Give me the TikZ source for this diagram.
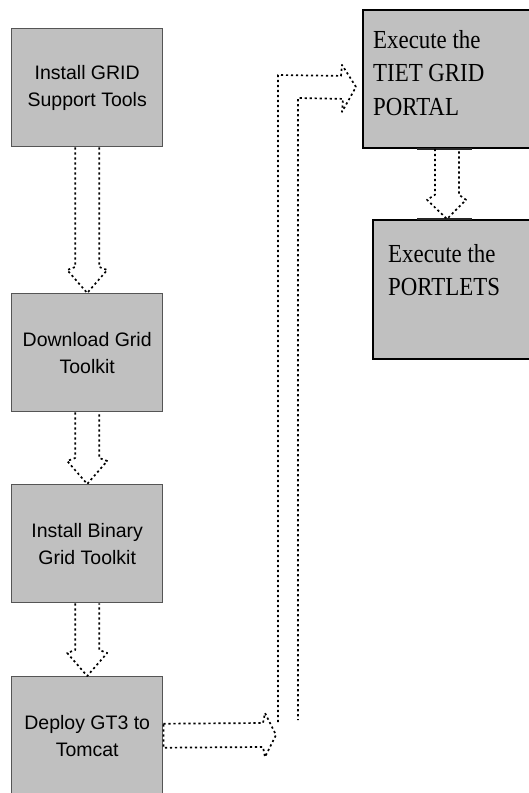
\documentclass[tikz,border=0pt]{standalone}
\usepackage{fontspec}
\setmainfont{Liberation Serif}
\newfontfamily\boxsans{Liberation Sans}
\newfontfamily\portalfont[FakeStretch=0.88]{Liberation Serif}
\usetikzlibrary{calc}
\definecolor{boxfill}{HTML}{C0C0C0}
\definecolor{boxline}{HTML}{555555}
\tikzset{
  stepbox/.style={draw=boxline, line width=1.4pt, fill=boxfill,
    minimum width=151pt, minimum height=118pt, anchor=north west,
    inner sep=0pt, align=center, font=\boxsans\fontsize{19.5}{27}\selectfont},
  portalbox/.style={draw=black, line width=1.8pt, fill=boxfill,
    anchor=north west, inner sep=0pt, minimum width=220pt},
  portaltext/.style={anchor=north west, inner sep=0pt, align=left,
    font=\portalfont\fontsize{26}{33.5}\selectfont},
  hollow/.style={draw=black, line width=1.7pt, dash pattern=on 2.2pt off 2.8pt,
    line join=round},
  edgebar/.style={draw=black!85, line width=2.6pt}
}
\begin{document}
\begin{tikzpicture}[x=1pt,y=-1pt]
\useasboundingbox (0,0) rectangle (529,793);
\clip (0,0) rectangle (529,793);
\fill[white] (0,0) rectangle (529,793);

% left column of steps
\node[stepbox] (install)  at (11,28)  {Install GRID\\Support Tools};
\node[stepbox] (download) at (11,293) {Download Grid\\Toolkit};
\node[stepbox] (binary)   at (11,484) {Install Binary\\Grid Toolkit};
\node[stepbox] (deploy)   at (11,676) {Deploy GT3 to\\Tomcat};

% right column: the portal and the portlets
\node[portalbox, minimum height=138pt] (portal) at (362,9) {};
\node[portaltext] (portaltxt) at (373,30) {Execute the\\TIET GRID\\PORTAL};
\node[portalbox, minimum height=139pt] (portlets) at (372,219) {};
\node[portaltext] (portletstxt) at (388,244) {Execute the\\PORTLETS};

% hollow dotted arrows down the left column
\foreach \a/\b in {install/download, download/binary, binary/deploy}{
  \draw[hollow] ($(\a.south)+(-12,0)$) -- ($(\b.north)+(-12,-26)$)
    -- ($(\b.north)+(-20,-23)$) -- (\b.north) -- ($(\b.north)+(20,-23)$)
    -- ($(\b.north)+(12,-26)$) -- ($(\a.south)+(12,0)$);
}

% portal to portlets
\draw[edgebar] ($(portal.south west)+(55,0)$) -- ($(portal.south west)+(110,0)$);
\draw[edgebar] ($(portlets.north west)+(45,0)$) -- ($(portlets.north west)+(100,0)$);
\draw[hollow] ($(portal.south west)+(73,0)$) -- ($(portal.south west)+(73,46)$)
  -- ($(portal.south west)+(65,51)$) -- ($(portlets.north west)+(75,0)$)
  -- ($(portal.south west)+(104,51)$) -- ($(portal.south west)+(97,46)$)
  -- ($(portal.south west)+(97,0)$);

% deploy to the right
\coordinate (htip) at (276,735);
\draw[hollow] ($(deploy.east)+(0,-12)$) -- ($(htip)+(-13,-12)$)
  -- ($(htip)+(-11,-22)$) -- (htip) -- ($(htip)+(-11,22)$)
  -- ($(htip)+(-13,12)$) -- ($(deploy.east)+(0,12)$) -- cycle;

% rising arrow into the portal
\coordinate (footouter) at (278,722);
\coordinate (footinner) at (298,720);
\coordinate (ltip) at ($(portal.west)+(-6,8)$);
\draw[hollow] (footouter) -- (278,75) -- ($(ltip)+(-15,-11)$)
  -- ($(ltip)+(-14,-22)$) -- (ltip) -- ($(ltip)+(-14,25)$)
  -- ($(ltip)+(-13,12)$) -- (298,98) -- (footinner);
\end{tikzpicture}
\end{document}
